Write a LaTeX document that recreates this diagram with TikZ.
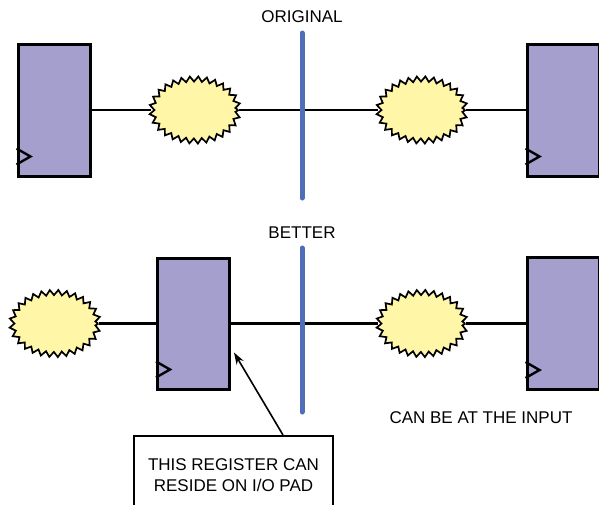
\documentclass[tikz,border=0pt]{standalone}
\usepackage{fontspec}
\setmainfont{Liberation Sans}
\usetikzlibrary{shapes.geometric}
\usetikzlibrary{decorations.pathmorphing}
\usetikzlibrary{arrows.meta}

\definecolor{regfill}{RGB}{165,159,206}
\definecolor{logicfill}{RGB}{255,246,168}
\definecolor{cutblue}{RGB}{80,110,184}

\begin{document}
\begin{tikzpicture}
[x=1pt,y=-1pt,%
  reg/.style={rectangle,draw,line width=3pt,fill=regfill,minimum width=72pt,minimum height=132pt,inner sep=0pt},%
  logic/.style={ellipse,draw,line width=1.7pt,fill=logicfill,minimum width=86pt,minimum height=62pt,inner sep=0pt,%
    decorate,decoration={zigzag,segment length=8.2pt,amplitude=2.6pt}},%
  wire/.style={line width=2.6pt},%
  cut/.style={cutblue,line width=5pt,line cap=round},%
  lbl/.style={inner sep=0pt}]
\fontsize{17}{21}\selectfont
\clip (0,0) rectangle (599,504);
\fill[white] (0,0) rectangle (599,504);

% original path
\node[reg] (r1) at (54,110) {};
\node[logic] (c1) at (195,110) {};
\node[logic] (c2) at (422,110) {};
\node[reg] (r3) at (563,110) {};
\draw[wire] (r1.east) -- (c1.west);
\draw[wire] (c1.east) -- (c2.west);
\draw[wire] (c2.east) -- (r3.west);

% better path
\node[logic] (c3) at (55,323.5) {};
\node[reg,minimum height=131pt] (r2) at (193.5,323.5) {};
\node[logic] (c4) at (422,323.5) {};
\node[reg] (r4) at (563,323.5) {};
\draw[wire] (c3.east) -- (r2.west);
\draw[wire] (r2.east) -- (c4.west);
\draw[wire] (c4.east) -- (r4.west);

% clock inputs
\foreach \r in {r1,r2,r3,r4}
  \draw[line width=2.4pt] ([yshift=29pt]\r.south west) -- ([xshift=14pt,yshift=21pt]\r.south west)
    -- ([yshift=13pt]\r.south west);

% cut lines
\node[lbl] (orig) at (302,17) {ORIGINAL};
\draw[cut] (302,33) -- (302,198);
\node[lbl] (better) at (302,232.5) {BETTER};
\draw[cut] (302,248) -- (302,412);

\node[lbl] (input) at (481,418) {CAN BE AT THE INPUT};

% callout
\node[rectangle,draw,line width=2.2pt,fill=white,minimum width=199pt,minimum height=78pt,align=center,anchor=north]
  (note) at (233.5,435) {THIS REGISTER CAN\\RESIDE ON I/O PAD};
\draw[line width=1.6pt,-{Stealth[length=12pt,width=8pt]}] ([xshift=49.5pt]note.north) -- ([xshift=3pt,yshift=-29pt]r2.east);
\end{tikzpicture}
\end{document}
